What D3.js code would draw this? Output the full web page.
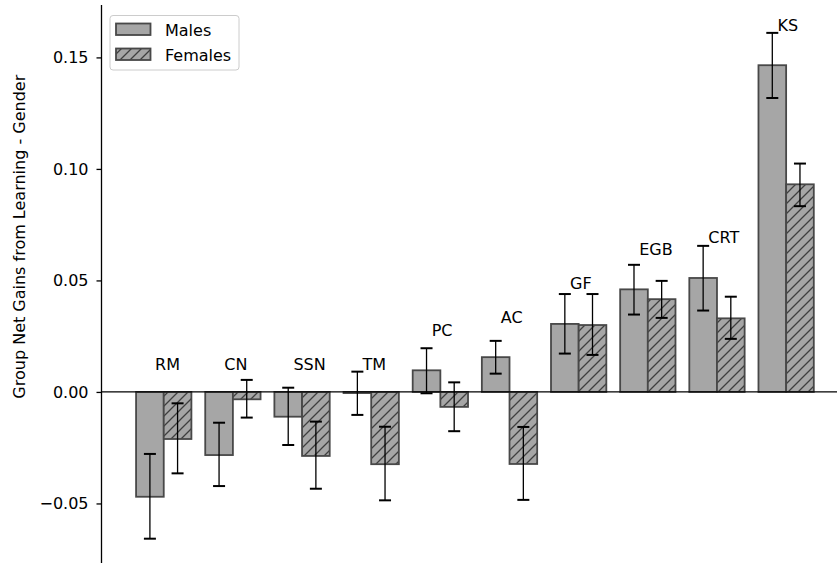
<!DOCTYPE html>
<html>
<head>
<meta charset="utf-8">
<script src="https://cdn.jsdelivr.net/npm/d3@7"></script>
<style>
  html, body { margin: 0; padding: 0; background: #fff; }
  svg { display: block; }
  text { font-family: "DejaVu Sans", sans-serif; }
</style>
</head>
<body>
<svg id="chart" width="837" height="565"></svg>
<script>
// ---- data ----
const categories = ["RM", "CN", "SSN", "TM", "PC", "AC", "GF", "EGB", "CRT", "KS"];
const malesValues   = [-0.0470, -0.0283, -0.0111, -0.0005, 0.0097, 0.0156, 0.0305, 0.0460, 0.0511, 0.1465];
const malesErrLow   = [-0.0658, -0.0422, -0.0238, -0.0103, -0.0006, 0.0082, 0.0172, 0.0347, 0.0365, 0.1318];
const malesErrHigh  = [-0.0278, -0.0138, 0.0019, 0.0091, 0.0196, 0.0229, 0.0439, 0.0570, 0.0655, 0.1610];
const femalesValues  = [-0.0211, -0.0033, -0.0287, -0.0324, -0.0067, -0.0323, 0.0300, 0.0416, 0.0330, 0.0931];
const femalesErrLow  = [-0.0365, -0.0115, -0.0434, -0.0486, -0.0176, -0.0484, 0.0166, 0.0332, 0.0238, 0.0833];
const femalesErrHigh = [-0.0051, 0.0054, -0.0133, -0.0156, 0.0043, -0.0157, 0.0439, 0.0498, 0.0427, 0.1024];
const labelLevels = [0.0097, 0.0097, 0.0097, 0.0097, 0.025, 0.0308, 0.046, 0.0614, 0.0667, 0.162];
const yTicks = [-0.05, 0.00, 0.05, 0.10, 0.15];
const seriesNames = ["Males", "Females"];
const yLabel = "Group Net Gains from Learning - Gender";

// ---- layout ----
const svg = d3.select("#chart");
const axisX = 101.5;
const x = d3.scaleLinear().domain([-0.9, 9.75]).range([axisX, 838]);
const y = d3.scaleLinear().domain([-0.0767, 0.1735]).range([563, 5]);
const barW = 0.4;

const fillCol = "#a6a6a6";
const edgeCol = "#484848";

const defs = svg.append("defs");
const pat = defs.append("pattern")
  .attr("id", "hatch")
  .attr("patternUnits", "userSpaceOnUse")
  .attr("width", 10).attr("height", 10);
pat.append("rect").attr("width", 10).attr("height", 10).attr("fill", fillCol);
pat.append("path")
  .attr("d", "M-2,2 L2,-2 M0,10 L10,0 M8,12 L12,8")
  .attr("stroke", "#3f3f3f").attr("stroke-width", 1.3);

const series = [
  { name: seriesNames[0], vals: malesValues, lo: malesErrLow, hi: malesErrHigh, off: -barW, fill: fillCol },
  { name: seriesNames[1], vals: femalesValues, lo: femalesErrLow, hi: femalesErrHigh, off: 0, fill: "url(#hatch)" }
];

// bars
series.forEach(s => {
  svg.append("g").selectAll("rect")
    .data(categories.map((c, i) => ({ i, v: s.vals[i] })))
    .join("rect")
    .attr("x", d => x(d.i + s.off))
    .attr("width", d => x(d.i + s.off + barW) - x(d.i + s.off))
    .attr("y", d => y(Math.max(0, d.v)))
    .attr("height", d => Math.abs(y(d.v) - y(0)))
    .attr("fill", s.fill)
    .attr("stroke", edgeCol)
    .attr("stroke-width", 1.8);
});

// zero line
svg.append("line")
  .attr("x1", axisX).attr("x2", 837)
  .attr("y1", y(0)).attr("y2", y(0))
  .attr("stroke", "#000").attr("stroke-width", 1.3);

// error bars
series.forEach(s => {
  const g = svg.append("g");
  categories.forEach((c, i) => {
    const cx = x(i + s.off + barW / 2);
    g.append("line").attr("x1", cx).attr("x2", cx)
      .attr("y1", y(s.lo[i])).attr("y2", y(s.hi[i]))
      .attr("stroke", "#000").attr("stroke-width", 1.3);
    [s.lo[i], s.hi[i]].forEach(v => {
      g.append("line").attr("x1", cx - 6).attr("x2", cx + 6)
        .attr("y1", y(v)).attr("y2", y(v))
        .attr("stroke", "#000").attr("stroke-width", 2);
    });
  });
});

// category labels
svg.append("g").selectAll("text")
  .data(categories)
  .join("text")
  .attr("x", (d, i) => x(i - 0.125))
  .attr("y", (d, i) => y(labelLevels[i]))
  .attr("font-size", 16)
  .attr("fill", "#000")
  .text(d => d);

// y axis
const fmt = v => (v < 0 ? "\u2212" : "") + d3.format(".2f")(Math.abs(v));
const yAxis = d3.axisLeft(y).tickValues(yTicks).tickFormat(fmt).tickSizeOuter(0).tickSize(5).tickPadding(8);
const ag = svg.append("g").attr("transform", `translate(${axisX},0)`).call(yAxis);
ag.select(".domain").remove();
ag.append("line").attr("x1", 0).attr("x2", 0)
  .attr("y1", y.range()[0]).attr("y2", y.range()[1])
  .attr("stroke", "#000").attr("stroke-width", 1.3);
ag.selectAll(".tick line").attr("stroke", "#000").attr("stroke-width", 1.3);
ag.selectAll(".tick text").attr("font-size", 16).attr("fill", "#000")
  .attr("font-family", "DejaVu Sans, sans-serif");

// y label
svg.append("text")
  .attr("transform", `translate(25,236.7) rotate(-90)`)
  .attr("text-anchor", "middle")
  .attr("font-size", 16)
  .attr("fill", "#000")
  .text(yLabel);

// legend
const lg = svg.append("g");
lg.append("rect")
  .attr("x", 110).attr("y", 15.5).attr("width", 129).attr("height", 54.5)
  .attr("rx", 3).attr("ry", 3)
  .attr("fill", "#fff").attr("fill-opacity", 0.8)
  .attr("stroke", "#cccccc").attr("stroke-width", 1);
series.forEach((s, k) => {
  const yy = 23.5 + k * 25;
  lg.append("rect")
    .attr("x", 116).attr("y", yy).attr("width", 34.5).attr("height", 11.5)
    .attr("fill", s.fill).attr("stroke", edgeCol).attr("stroke-width", 1.8);
  lg.append("text")
    .attr("x", 165).attr("y", yy + 12.5)
    .attr("font-size", 16).attr("fill", "#000")
    .text(s.name);
});
</script>
</body>
</html>
